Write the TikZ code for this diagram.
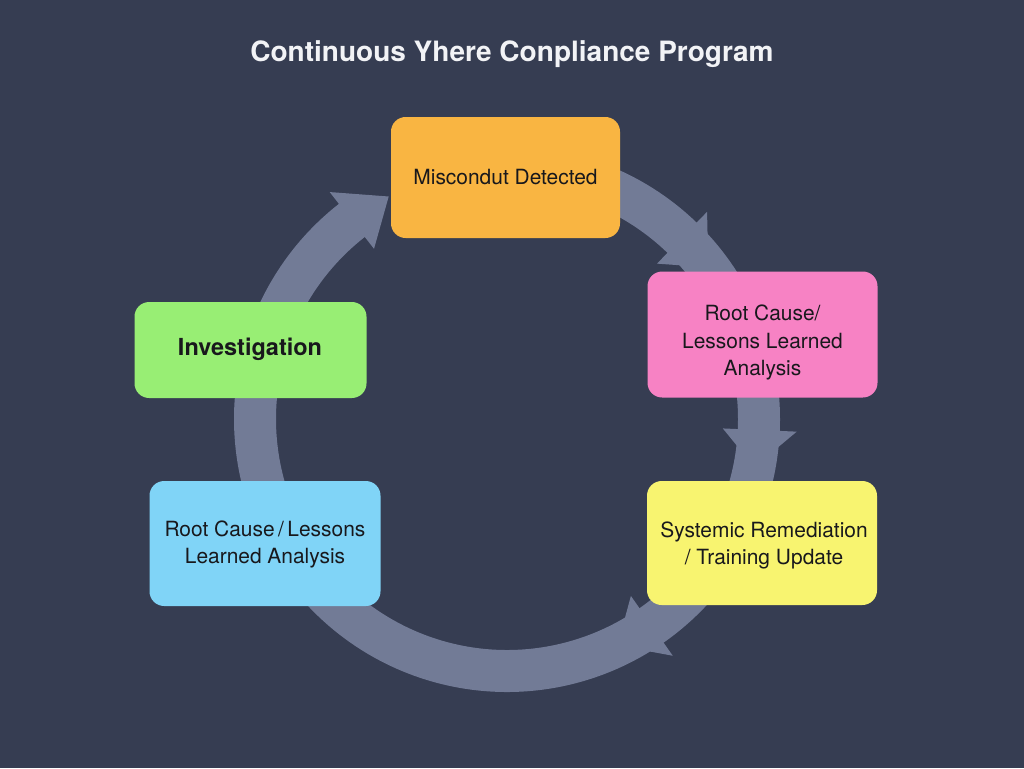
\documentclass[tikz,border=0pt]{standalone}
\usepackage{fontspec}
\setmainfont{TeX Gyre Heros}
\definecolor{bgc}{RGB}{54,61,82}
\definecolor{ringc}{RGB}{114,123,150}
\definecolor{txtc}{RGB}{24,24,28}
\definecolor{titlec}{RGB}{242,243,246}
\definecolor{orangec}{RGB}{249,181,66}
\definecolor{pinkc}{RGB}{247,130,196}
\definecolor{yellowc}{RGB}{248,244,112}
\definecolor{bluec}{RGB}{128,212,247}
\definecolor{greenc}{RGB}{152,238,116}
\begin{document}
\begin{tikzpicture}[x=0.75pt,y=-0.75pt,
  box/.style={rounded corners=11pt, inner sep=0pt},
  txt/.style={align=center, text=txtc, inner sep=0pt,
    font=\fontsize{15.7}{20.3}\selectfont},
  ring/.style={line width=31.5pt, draw=ringc},
  headc/.style={fill=ringc}]
\fill[bgc] (0,0) rectangle (1024,768);
\useasboundingbox (0,0) rectangle (1024,768);
\node[font=\fontsize{21}{25}\selectfont\bfseries, text=titlec] (title) at (512,54) {Continuous Yhere Conpliance Program};
\coordinate (C) at (507,419);
% ring segments
\draw[ring] ([shift={(160:252)}]C) arc[start angle=160, end angle=200, radius=252];
\draw[ring] ([shift={(195:252)}]C) arc[start angle=195, end angle=233, radius=252];
\draw[ring] ([shift={(290:252)}]C) arc[start angle=290, end angle=330, radius=252];
\draw[ring] ([shift={(-10:252)}]C) arc[start angle=-10, end angle=20, radius=252];
\draw[ring] ([shift={(40:252)}]C) arc[start angle=40, end angle=140, radius=252];
% arrow heads
\fill[headc] ([shift={(232:216)}]C) -- ([shift={(232:288)}]C) -- ([shift={(242:252)}]C) -- cycle;
\fill[headc] ([shift={(314:216)}]C) -- ([shift={(314:288)}]C) -- ([shift={(323:252)}]C) -- cycle;
\fill[headc] ([shift={(2.5:216)}]C) -- ([shift={(2.5:290)}]C) -- ([shift={(11:252)}]C) -- cycle;
\fill[headc] ([shift={(55:216)}]C) -- ([shift={(55:289)}]C) -- ([shift={(64:252)}]C) -- cycle;
% boxes
\node[box, fill=orangec, minimum width=171.75pt, minimum height=90.75pt] (detect) at (505.5,177.5) {};
\node[txt] (detect-t) at (505.5,177) {Miscondut Detected};
\node[box, fill=pinkc, minimum width=172.5pt, minimum height=94.5pt] (rootr) at (762.5,334.5) {};
\node[txt] (rootr-t) at (762.5,342.5) {Root Cause/\\Lessons Learned\\Analysis};
\node[box, fill=yellowc, minimum width=172.5pt, minimum height=93pt] (remed) at (762,543) {};
\node[txt] (remed-t) at (764,545.5) {Systemic Remediation\\/ Training Update};
\node[box, fill=bluec, minimum width=173.25pt, minimum height=93.75pt] (rootl) at (265,543.5) {};
\node[txt] (rootl-t) at (265,544.5) {Root Cause\,/\,Lessons\\Learned Analysis};
\node[box, fill=greenc, minimum width=174pt, minimum height=72pt] (invest) at (250.5,350) {};
\node[txt, font=\fontsize{17.6}{21}\selectfont\bfseries] (invest-t) at (250,349) {Investigation};
\end{tikzpicture}
\end{document}
